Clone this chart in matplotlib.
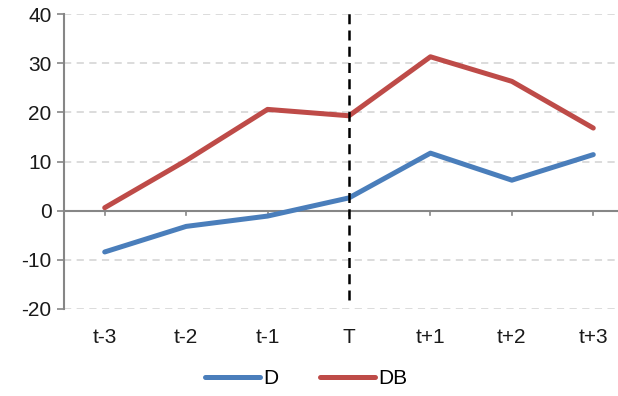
import numpy as np
import matplotlib.pyplot as plt

plt.rcParams['font.family'] = ['Liberation Sans', 'DejaVu Sans']
plt.rcParams['axes.unicode_minus'] = False

periods = ["t-3", "t-2", "t-1", "T", "t+1", "t+2", "t+3"]
d_vals = [-8.4, -3.2, -1.1, 2.6, 11.7, 6.2, 11.4]
db_vals = [0.6, 10.2, 20.6, 19.3, 31.3, 26.3, 16.8]
y_ticks = [-20, -10, 0, 10, 20, 30, 40]

blue = "#4a7ebb"
red = "#be4b48"
axis_grey = "#868686"
text_col = "#1a1a1a"

fig = plt.figure(figsize=(6.18, 3.96), dpi=100)
# plot area runs slightly past the right edge of the canvas
ax = fig.add_axes([64 / 618, 1 - 309 / 396, 570 / 618, 295 / 396])

x = np.arange(len(periods))
ax.set_xlim(-0.5, len(periods) - 0.5)
ax.set_ylim(-20, 40)

for yv in y_ticks:
    if yv != 0:
        ax.axhline(yv, color="#d9d9d9", lw=1.3, ls=(0, (4, 3)), zorder=0)
ax.axhline(0, color=axis_grey, lw=1.5, zorder=1)

ax.plot(x, d_vals, color=blue, lw=3.6, solid_capstyle="round", label="D", zorder=3)
ax.plot(x, db_vals, color=red, lw=3.6, solid_capstyle="round", label="DB", zorder=3)

# event marker at period T
ax.plot([3, 3], [-18.2, 40.5], color="black", lw=1.8, ls=(0, (4, 2.5)),
        clip_on=False, zorder=4)

# category ticks hang off the zero line
for xi in x:
    ax.plot([xi, xi], [0, -0.9], color=axis_grey, lw=1.2, zorder=1)

for s in ["top", "right", "bottom"]:
    ax.spines[s].set_visible(False)
ax.spines["left"].set_color(axis_grey)
ax.spines["left"].set_linewidth(1.5)

ax.set_yticks(y_ticks)
ax.tick_params(axis="y", colors=axis_grey, length=5, width=1.2, labelsize=15,
               labelcolor=text_col, pad=4)
ax.set_xticks(x)
ax.set_xticklabels(periods)
ax.tick_params(axis="x", length=0, labelsize=15, labelcolor=text_col, pad=14)

ax.legend(loc="center", bbox_to_anchor=(0.425, -0.237), ncol=2, frameon=False,
          fontsize=15, handlelength=2.65, columnspacing=2.0, handletextpad=0.15,
          borderpad=0, borderaxespad=0)

fig.savefig("out.png", dpi=100)
